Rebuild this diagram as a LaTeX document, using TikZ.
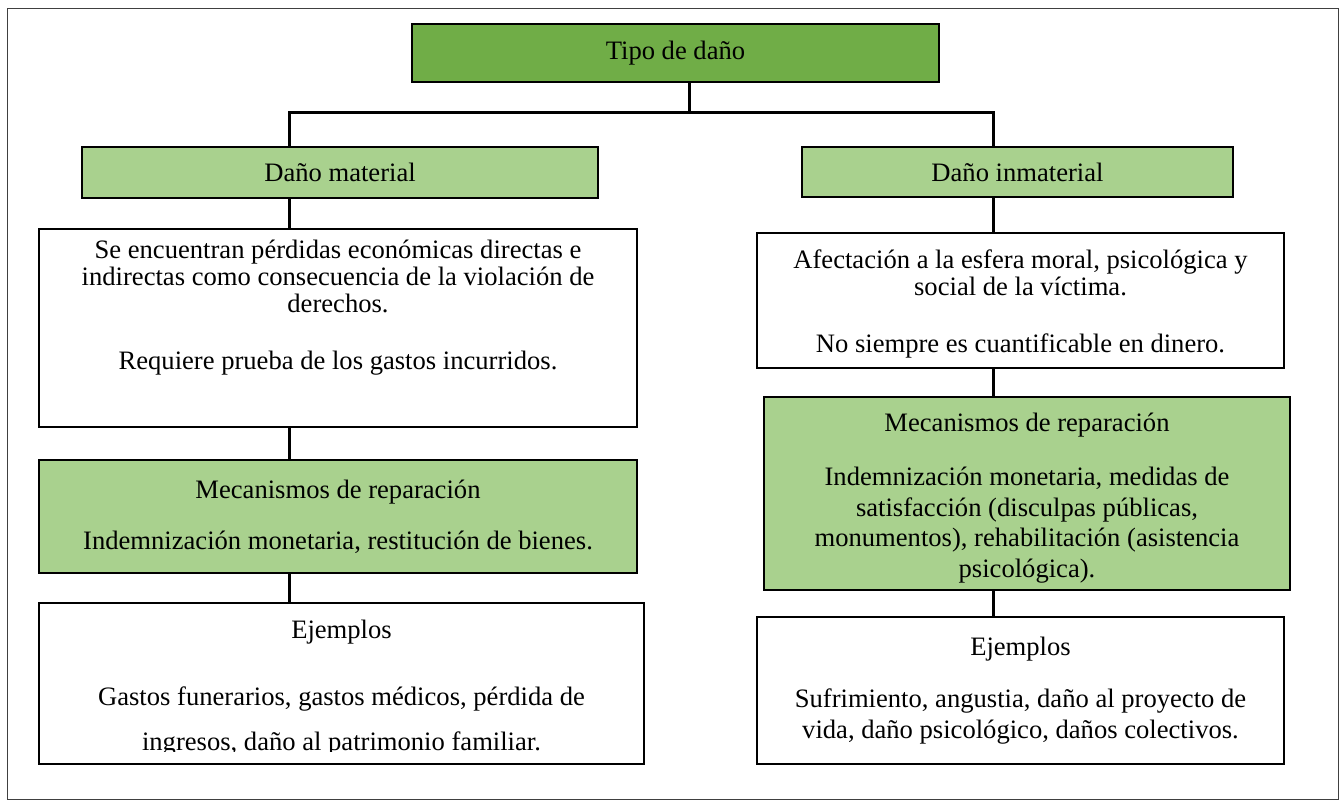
\documentclass[tikz,border=0pt]{standalone}
\usepackage{fontspec}
\setmainfont{Liberation Serif}
\usetikzlibrary{positioning}

\definecolor{verdeosc}{HTML}{70AD47}
\definecolor{verdecla}{HTML}{A9D18E}

\tikzset{
  caja/.style={draw, line width=2pt, inner sep=0pt, align=center,
               font=\fontsize{26.6pt}{27pt}\selectfont},
  interlinea/.style={font=\fontsize{26.6pt}{#1}\selectfont},
  raiz/.style={caja, fill=verdeosc},
  rama/.style={caja, fill=verdecla},
  nota/.style={caja, fill=white},
  linea/.style={line width=3pt}
}
% puntal para bajar la primera linea
\newcommand{\bajar}[1]{\rule{0pt}{#1}}

\begin{document}
\begin{tikzpicture}[x=1pt, y=-1pt]
\useasboundingbox (0,0) rectangle (1341,803);
\draw[line width=1pt, black!75] (7,8) rectangle (1338,799);

% cajas
\path (675.5,53) node[raiz, minimum width=527pt, minimum height=58pt] (tipo) {Tipo de daño}
      (340,172.5) node[rama, minimum width=516pt, minimum height=51pt] (matL) {Daño material}
      (1017.5,172) node[rama, minimum width=431pt, minimum height=50pt] (inmat) {Daño inmaterial};

\path (338,328) node[nota, minimum width=598pt, minimum height=198pt] (descL) {}
      (338,240) node[anchor=north, inner sep=0pt, align=center,
                     font=\fontsize{26.6pt}{27pt}\selectfont] (descLtxt)
        {Se encuentran pérdidas económicas directas e\\
         indirectas como consecuencia de la violación de\\
         derechos.\\[30pt]
         Requiere prueba de los gastos incurridos.}
      (338,516.5) node[rama, minimum width=598pt, minimum height=113pt] (mecL)
        {Mecanismos de reparación\\[24pt]
         Indemnización monetaria, restitución de bienes.}
      (341.5,683.5) node[nota, interlinea=45pt, minimum width=605pt, minimum height=161pt] (ejL)
        {\bajar{28pt}Ejemplos\\[22pt]
         Gastos funerarios, gastos médicos, pérdida de\\
         ingresos, daño al patrimonio familiar.};
% el cuadro de texto corta la ultima linea
\fill[white] ([xshift=3pt, yshift=2pt]ejL.south west) rectangle ([xshift=-3pt, yshift=13pt]ejL.south east);

\path (1020.5,300.5) node[nota, minimum width=527pt, minimum height=135pt] (descR)
        {\bajar{26pt}Afectación a la esfera moral, psicológica y\\
         social de la víctima.\\[30pt]
         No siempre es cuantificable en dinero.}
      (1027,493.5) node[rama, interlinea=30.5pt, minimum width=526pt, minimum height=193pt] (mecR)
        {\bajar{28pt}Mecanismos de reparación\\[23.5pt]
         Indemnización monetaria, medidas de\\
         satisfacción (disculpas públicas,\\
         monumentos), rehabilitación (asistencia\\
         psicológica).}
      (1020.5,690.5) node[nota, interlinea=31pt, minimum width=527pt, minimum height=147pt] (ejR)
        {Ejemplos\\[21pt]
         Sufrimiento, angustia, daño al proyecto de\\
         vida, daño psicológico, daños colectivos.};

% conectores
\coordinate (jt) at (689,112);
\coordinate (jl) at (289,112);
\coordinate (jr) at (993,112);
\draw[linea] (tipo.south -| jt) -- (jt);
\draw[linea] (matL.north -| jl) |- (jr) -- (inmat.north -| jr);
\foreach \a/\b in {matL/descL, descL/mecL, mecL/ejL}
  \draw[linea] (\a.south -| jl) -- (\b.north -| jl);
\foreach \a/\b in {inmat/descR, descR/mecR, mecR/ejR}
  \draw[linea] (\a.south -| jr) -- (\b.north -| jr);

\end{tikzpicture}
\end{document}
